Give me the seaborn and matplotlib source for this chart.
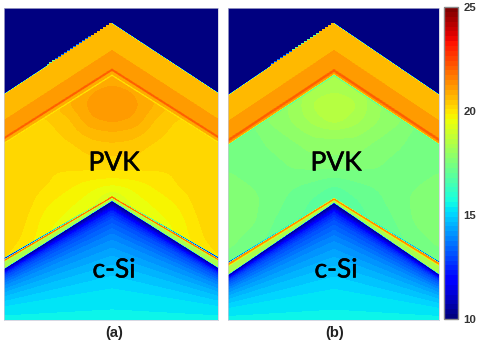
import numpy as np
import matplotlib
matplotlib.use("Agg")
import matplotlib.pyplot as plt
import matplotlib.patheffects as pe
import seaborn as sns

VMIN, VMAX = 10, 25
CBAR_TICKS = [10, 15, 20, 25]
PANEL_LABELS = ["(a)", "(b)"]
REGION_LABELS = ["PVK", "c-Si"]

# in image pixels
# (y at chevron peak, y at panel edge) for each layer boundary, top to bottom
BOUNDS_A = [(23, 94), (50, 120), (68.5, 137), (71, 139.5), (74.5, 142.5), (76, 144),
            (196, 258), (196, 259.5), (198, 261.5), (198.5, 262.5), (201, 269)]
BOUNDS_B = [(23, 95), (50, 121), (69, 139), (72, 142), (74.5, 144.5), (76, 146),
            (198, 262), (198, 263), (200, 265.5), (200.5, 266.5), (203, 275)]
# values of the layers between those boundaries; None = field table
LAYERS_A = [10, 20.7, 21.2, 22.0, 20.9, 20.0, None, 12.0, 21.8, 18.6, 18.4]
LAYERS_B = [10, 20.7, 21.2, 22.0, 21.2, 17.0, None, 12.0, 21.4, 20.0, 18.4]

FIELD_Y = [76, 90, 105, 120, 135, 150, 170, 185, 200, 220, 240, 262]
FIELD_X = [0, 0.2, 0.4, 0.6, 0.8, 1.0]
FIELD_A = [[20.9, 20.8, 20.6, 20.5, 20.4, 20.3],
           [21.1, 21.0, 20.7, 20.5, 20.4, 20.3],
           [21.2, 21.1, 20.8, 20.4, 20.3, 20.3],
           [21.1, 21.0, 20.5, 20.3, 20.3, 20.3],
           [20.7, 20.6, 20.4, 20.2, 20.2, 20.2],
           [20.4, 20.4, 20.2, 20.1, 20.1, 20.1],
           [20.1, 20.1, 20.1, 20.1, 20.2, 20.2],
           [19.6, 19.7, 19.9, 20.1, 20.2, 20.3],
           [19.0, 19.5, 19.7, 19.9, 20.2, 20.3],
           [19.0, 19.3, 19.5, 19.7, 20.1, 20.3],
           [19.0, 19.2, 19.3, 19.6, 20.0, 20.3],
           [19.0, 19.2, 19.3, 19.5, 19.6, 20.1]]
FIELD_B = [[18.2, 18.2, 18.0, 17.8, 17.5, 17.3],
           [18.4, 18.3, 18.0, 17.8, 17.5, 17.3],
           [18.7, 18.5, 18.0, 17.8, 17.5, 17.3],
           [18.6, 18.3, 18.0, 17.8, 17.5, 17.2],
           [18.0, 18.0, 17.8, 17.6, 17.4, 17.2],
           [17.8, 17.8, 17.6, 17.5, 17.4, 17.3],
           [17.5, 17.5, 17.5, 17.4, 17.4, 17.5],
           [17.0, 17.2, 17.3, 17.4, 17.5, 17.6],
           [16.8, 17.0, 17.2, 17.4, 17.6, 17.7],
           [16.8, 16.9, 17.1, 17.3, 17.6, 17.7],
           [16.8, 16.9, 17.0, 17.2, 17.4, 17.6],
           [16.8, 16.9, 17.0, 17.1, 17.2, 17.4]]
# c-Si value against fractional depth from interface to panel bottom
SI_DEPTH = [0, 0.03, 0.08, 0.15, 0.3, 0.5, 0.7, 0.85, 1.0]
SI_VALUE = [10.2, 11.0, 12.4, 13.1, 13.9, 14.6, 15.1, 15.35, 15.45]

PANEL_A = dict(x0=4, x1=218, peak=112, bounds=BOUNDS_A, layers=LAYERS_A, field=FIELD_A,
               text_x=114, label_x=114)
PANEL_B = dict(x0=228, x1=439, peak=334, bounds=BOUNDS_B, layers=LAYERS_B, field=FIELD_B,
               text_x=336, label_x=335)
Y0, Y1 = 8, 320
W, H = 479, 344
SS = 3
STAIR = 3       # the air boundary is stepped on the upper left slope
STAIR_TO = 0.6


def blur(a, n=9, passes=3):
    k = np.ones(n) / n
    pad = n // 2
    for _ in range(passes):
        for axis in (0, 1):
            b = np.pad(a, [(pad, pad) if i == axis else (0, 0) for i in range(2)], mode="edge")
            a = np.apply_along_axis(lambda v: np.convolve(v, k, mode="valid"), axis, b)
    return a


def panel_matrix(p):
    nx, ny = (p["x1"] - p["x0"]) * SS, (Y1 - Y0) * SS
    xs = p["x0"] + (np.arange(nx) + 0.5) / SS
    ys = Y0 + (np.arange(ny) + 0.5) / SS
    half = max(p["peak"] - p["x0"], p["x1"] - p["peak"])
    u = np.abs(xs - p["peak"]) / half
    field = np.array(p["field"])
    fy = np.array([[np.interp(u[j], FIELD_X, field[i]) for j in range(nx)]
                   for i in range(len(FIELD_Y))])
    full = np.array([np.interp(ys, FIELD_Y, fy[:, j]) for j in range(nx)]).T
    full = blur(full[::SS, ::SS]).repeat(SS, axis=0).repeat(SS, axis=1)
    out = np.zeros((ny, nx))
    for j in range(nx):
        yb = [a + (b - a) * u[j] for a, b in p["bounds"]]
        if xs[j] < p["peak"] and u[j] < STAIR_TO:
            xq = np.floor((xs[j] - p["peak"]) / STAIR) * STAIR + STAIR
            a, b = p["bounds"][0]
            yb[0] = a + (b - a) * abs(xq) / half
        idx = np.searchsorted(yb, ys)
        col = np.empty(ny)
        for k in range(len(yb) + 1):
            m = idx == k
            if k == len(yb):
                s = (ys[m] - yb[-1]) / (Y1 - yb[-1])
                col[m] = np.interp(s, SI_DEPTH, SI_VALUE)
            else:
                v = p["layers"][k]
                col[m] = full[:, j][m] if v is None else v
        out[:, j] = col
    return out.reshape(ny // SS, SS, nx // SS, SS).mean(axis=(1, 3))


sns.set_theme(style="white")
fig = plt.figure(figsize=(W / 100, H / 100), dpi=100)
fig.patch.set_facecolor("white")


def px_axes(x0, x1, y0, y1):
    return fig.add_axes([x0 / W, 1 - y1 / H, (x1 - x0) / W, (y1 - y0) / H])


cmap = plt.get_cmap("jet", 64)
ax_a = px_axes(PANEL_A["x0"], PANEL_A["x1"], Y0, Y1)
ax_b = px_axes(PANEL_B["x0"], PANEL_B["x1"], Y0, Y1)
cax = px_axes(444, 458, 7, 319)

sns.heatmap(panel_matrix(PANEL_A), ax=ax_a, cmap=cmap, vmin=VMIN, vmax=VMAX, cbar=False,
            xticklabels=False, yticklabels=False, rasterized=True)
sns.heatmap(panel_matrix(PANEL_B), ax=ax_b, cmap=cmap, vmin=VMIN, vmax=VMAX, cbar=True, cbar_ax=cax,
            xticklabels=False, yticklabels=False, rasterized=True,
            cbar_kws=dict(ticks=CBAR_TICKS))

stroke = [pe.withStroke(linewidth=0.35, foreground="black")]
for ax, p, lab in ((ax_a, PANEL_A, PANEL_LABELS[0]), (ax_b, PANEL_B, PANEL_LABELS[1])):
    fig.text(p["text_x"] / W, 1 - 163 / H, REGION_LABELS[0], family="Lato", fontsize=19,
             color="black", ha="center", va="center", path_effects=stroke)
    fig.text(p["text_x"] / W, 1 - 270 / H, REGION_LABELS[1], family="Lato", fontsize=19,
             color="black", ha="center", va="center", path_effects=stroke)
    fig.text(p["label_x"] / W, 1 - 333 / H, lab, family="Liberation Sans", fontweight="bold",
             fontsize=10.5, color="#222222", ha="center", va="center")
    for s in ax.spines.values():
        s.set_visible(True)
        s.set_edgecolor("#c8c8d8")
        s.set_linewidth(0.5)

cbar = ax_b.collections[0].colorbar
cbar.outline.set_visible(True)
cbar.outline.set_edgecolor("#8a8a8a")
cbar.outline.set_linewidth(1.0)
cax.tick_params(axis="y", right=True, length=2, width=0.6, direction="in", pad=4,
                labelsize=8.2, labelcolor="#333333", color="#333333")
cax.set_yticks(CBAR_TICKS)
for t in cax.get_yticklabels():
    t.set_fontweight("bold")
    t.set_family("Liberation Sans")

fig.savefig("out.png", dpi=100, facecolor="white")
